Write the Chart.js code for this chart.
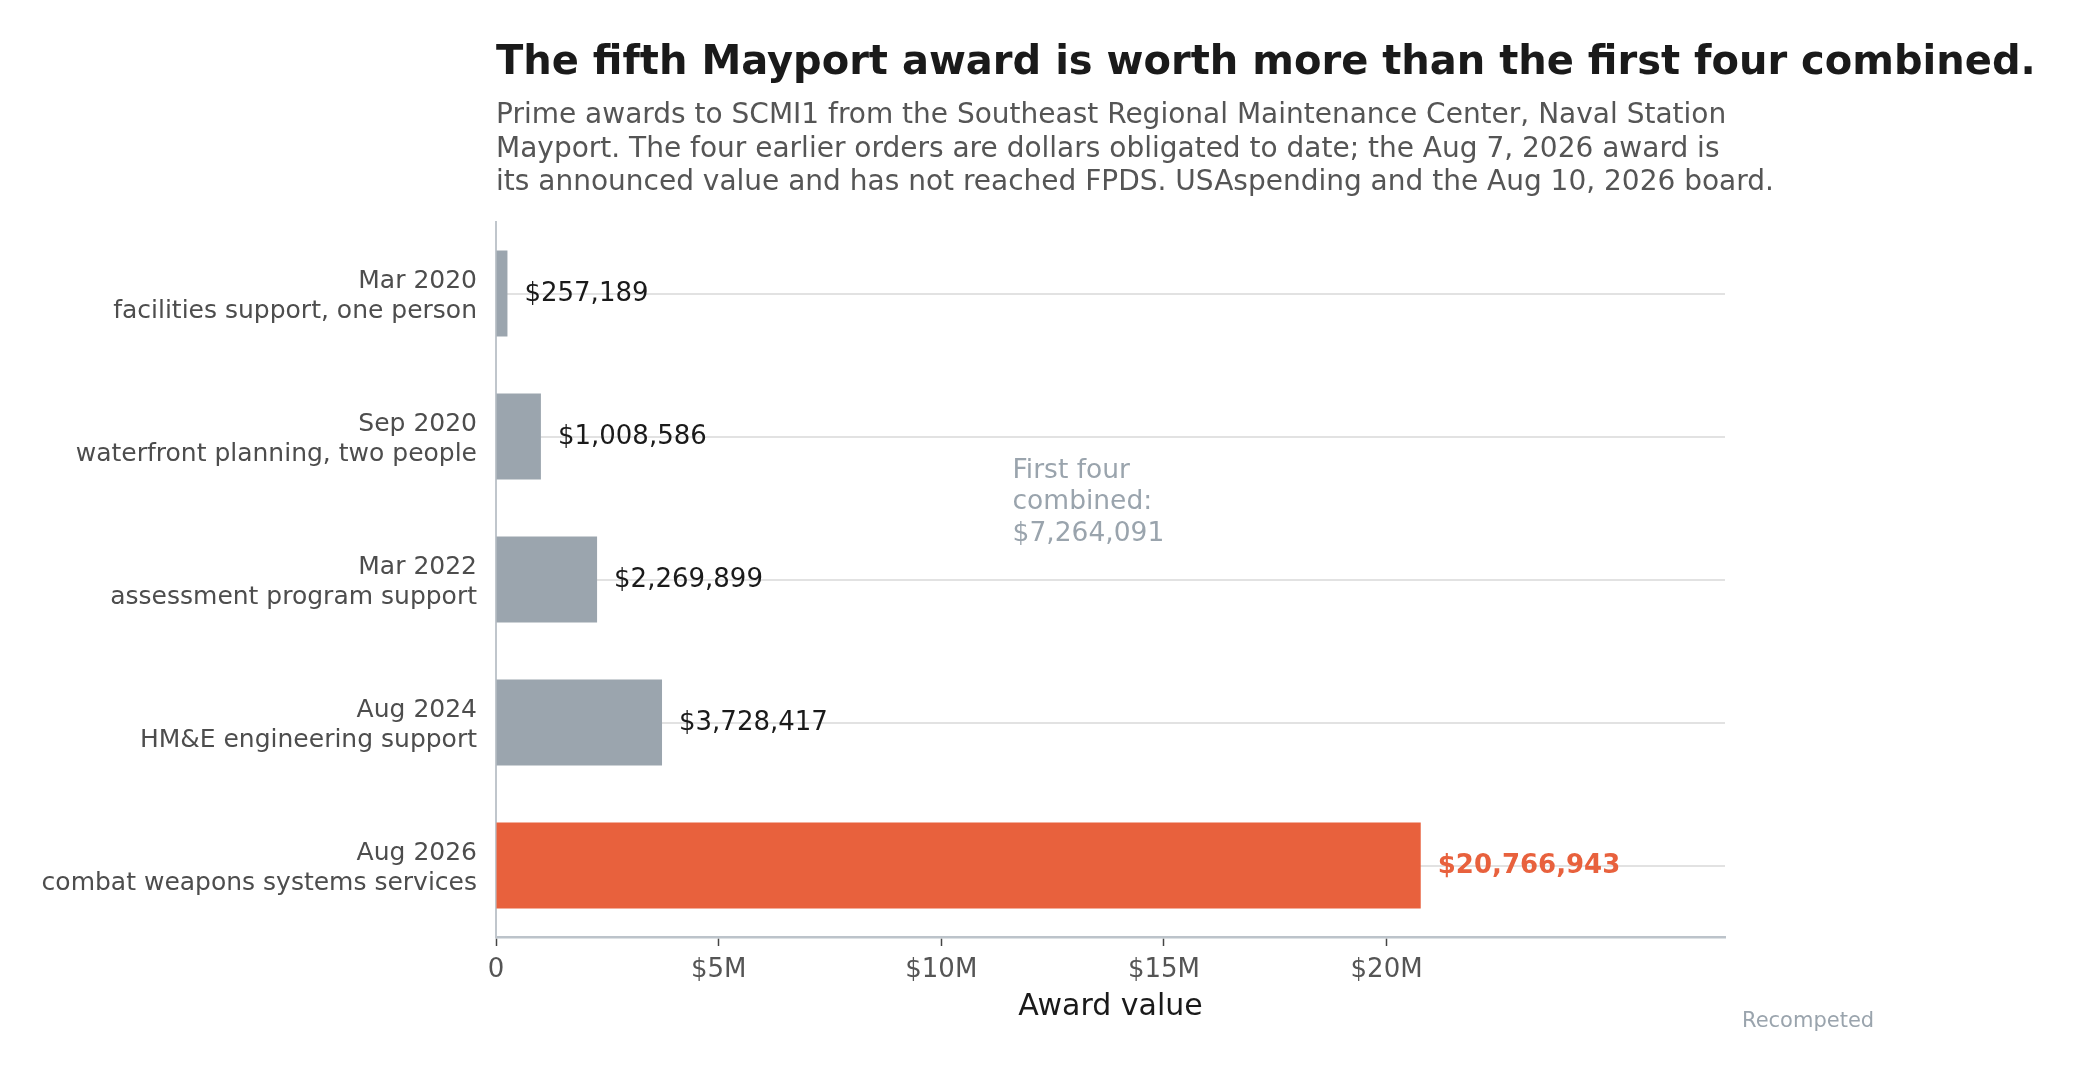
<!DOCTYPE html>
<html>
<head>
<meta charset="utf-8">
<script src="https://cdn.jsdelivr.net/npm/chart.js@4.4.1/dist/chart.umd.min.js"></script>
<style>
html, body { margin: 0; padding: 0; background: #fff; overflow: hidden; }
</style>
</head>
<body>
<canvas id="myChart" width="2078" height="1077"></canvas>
<script>
// Données
const categories = [
    ["Mar 2020", "facilities support, one person"],
    ["Sep 2020", "waterfront planning, two people"],
    ["Mar 2022", "assessment program support"],
    ["Aug 2024", "HM&E engineering support"],
    ["Aug 2026", "combat weapons systems services"],
];
const awardValues = [257189, 1008586, 2269899, 3728417, 20766943];
const xTickValues = [0, 5000000, 10000000, 15000000, 20000000];
const xTickLabels = ["0", "$5M", "$10M", "$15M", "$20M"];

const titleText = "The fifth Mayport award is worth more than the first four combined.";
const subtitleLines = [
    "Prime awards to SCMI1 from the Southeast Regional Maintenance Center, Naval Station",
    "Mayport. The four earlier orders are dollars obligated to date; the Aug 7, 2026 award is",
    "its announced value and has not reached FPDS. USAspending and the Aug 10, 2026 board.",
];

const GRAY = "#9ba5ae";
const ORANGE = "#e8613d";
const FONT = '"DejaVu Sans"';
const lastIndex = awardValues.length - 1;

const fmt = v => "$" + v.toLocaleString("en-US");

const textPlugin = {
    id: "texts",
    afterDatasetsDraw(chart) {
        const { ctx, chartArea, scales: { x, y } } = chart;
        ctx.save();
        ctx.textAlign = "left";
        ctx.textBaseline = "alphabetic";
        // titre
        ctx.fillStyle = "#1a1a1a";
        ctx.font = "bold 40px " + FONT;
        ctx.fillText(titleText, chartArea.left, 74);
        // sous-titre
        ctx.fillStyle = "#555555";
        ctx.font = "28px " + FONT;
        subtitleLines.forEach((line, i) => ctx.fillText(line, chartArea.left, 123 + i * 33.5));

        // étiquettes des barres
        ctx.textBaseline = "middle";
        awardValues.forEach((v, i) => {
            const last = i === lastIndex;
            ctx.font = (last ? "bold " : "") + "26px " + FONT;
            ctx.fillStyle = last ? ORANGE : "#1a1a1a";
            ctx.fillText(fmt(v), x.getPixelForValue(v) + 17, y.getPixelForValue(i) + 1);
        });

        // annotation total
        const firstFour = awardValues.slice(0, lastIndex).reduce((a, b) => a + b, 0);
        ctx.textBaseline = "alphabetic";
        ctx.font = "26.5px " + FONT;
        ctx.fillStyle = "#9aa4ad";
        const annX = x.getPixelForValue(11600000);
        const annY = y.getPixelForValue(1) + 41;
        ["First four", "combined:", fmt(firstFour)].forEach((line, i) => ctx.fillText(line, annX, annY + i * 31.5));

        // note
        ctx.font = "21px " + FONT;
        ctx.fillText("Recompeted", chartArea.right + 17, 1027);
        ctx.restore();
    }
};

const barConfig = {
    type: "bar",
    data: {
        labels: categories,
        datasets: [{
            label: "Award value",
            data: awardValues,
            backgroundColor: ctx => ctx.dataIndex === lastIndex ? ORANGE : GRAY,
            borderWidth: 0,
            categoryPercentage: 1,
            barPercentage: 0.6,
        }],
    },
    options: {
        indexAxis: "y",
        responsive: false,
        animation: false,
        devicePixelRatio: 1,
        layout: { padding: { top: 222, right: 353, left: 0, bottom: 0 } },
        plugins: {
            legend: { display: false },
            tooltip: { enabled: false },
        },
        scales: {
            x: {
                type: "linear",
                min: 0,
                max: 27600000,
                afterFit: s => { s.height = 140; },
                afterBuildTicks: s => { s.ticks = xTickValues.map(v => ({ value: v })); },
                ticks: {
                    callback: (v, i) => xTickLabels[i],
                    color: "#555555",
                    font: { family: FONT, size: 26 },
                    padding: 9,
                    maxRotation: 0,
                },
                grid: {
                    display: true,
                    drawOnChartArea: false,
                    drawTicks: true,
                    tickLength: 9,
                    tickColor: "#444444",
                    tickWidth: 1.5,
                },
                border: { color: "#bcc3ca", width: 2.5 },
                title: {
                    display: true,
                    text: "Award value",
                    color: "#1a1a1a",
                    font: { family: FONT, size: 30 },
                    padding: { top: 4, bottom: 52 },
                },
            },
            y: {
                afterFit: s => { s.width = 496; },
                ticks: {
                    color: "#4d4d4d",
                    font: { family: FONT, size: 25, lineHeight: 1.22 },
                    padding: 19,
                    labelOffset: 3,
                },
                grid: {
                    color: "#e2e2e2",
                    lineWidth: 2,
                    offset: false,
                    drawTicks: false,
                },
                border: { color: "#c0c6cc", width: 2 },
            },
        },
    },
    plugins: [textPlugin],
};

const monGraphique = new Chart(document.getElementById("myChart"), barConfig);
</script>
</body>
</html>
